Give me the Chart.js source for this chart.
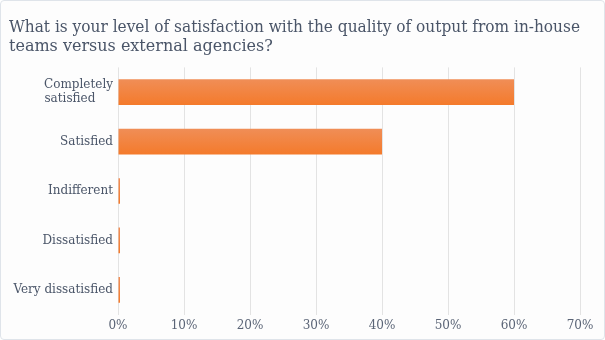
<!DOCTYPE html>
<html>
<head>
<meta charset="utf-8">
<script src="https://cdn.jsdelivr.net/npm/chart.js@4"></script>
<style>
  html, body { margin: 0; padding: 0; background: #ffffff; }
  #wrap {
    width: 605px; height: 340px; box-sizing: border-box;
    border: 1px solid #dfe4ea; border-radius: 4px; background: #fdfdfd;
  }
  canvas { display: block; }
</style>
</head>
<body>
<div id="wrap"><canvas id="chart" width="603" height="338"></canvas></div>
<script>
// chart data
const titleLines = ['What is your level of satisfaction with the quality of output from in-house', 'teams versus external agencies?'];
const categories = [['Completely', 'satisfied    \u2009'], 'Satisfied', 'Indifferent', 'Dissatisfied', 'Very dissatisfied'];
const percents = [60, 40, 0, 0, 0];
const xTicksMax = 70;

// lighter at top of each bar, darker orange at the bottom
function barGradient(context) {
  const chart = context.chart;
  const yScale = chart.scales.y;
  if (!yScale || !chart.chartArea) return '#f47b2e';
  const center = yScale.getPixelForValue(context.dataIndex);
  const half = 13;
  const g = chart.ctx.createLinearGradient(0, center - half, 0, center + half);
  g.addColorStop(0, '#f08e57');
  g.addColorStop(1, '#f47a2b');
  return g;
}

new Chart(document.getElementById('chart'), {
  type: 'bar',
  data: {
    labels: categories,
    datasets: [{
      data: percents,
      backgroundColor: barGradient,
      borderWidth: 0,
      minBarLength: 2,
      barPercentage: 0.65,
      categoryPercentage: 0.8
    }]
  },
  options: {
    indexAxis: 'y',
    responsive: false,
    animation: false,
    layout: { padding: { left: 8, right: 24, top: 4, bottom: 2 } },
    plugins: {
      legend: { display: false },
      tooltip: { enabled: false },
      title: {
        display: true,
        text: titleLines,
        align: 'start',
        color: '#4a5568',
        font: { family: 'DejaVu Serif', size: 16, weight: 'normal', lineHeight: 1.2 },
        padding: { top: 13, bottom: 11 }
      }
    },
    scales: {
      x: {
        min: 0,
        max: xTicksMax,
        ticks: {
          stepSize: 10,
          color: '#5a6476',
          font: { family: 'DejaVu Serif', size: 12 },
          padding: 4,
          callback: v => v + '%'
        },
        grid: { color: '#e3e3e3', drawTicks: false },
        border: { display: false }
      },
      y: {
        afterFit: scale => { scale.width = 109; },
        ticks: {
          color: '#4a5568',
          font: { family: 'DejaVu Serif', size: 12 },
          padding: 5
        },
        grid: { display: false, drawTicks: false },
        border: { display: false }
      }
    }
  }
});
</script>
</body>
</html>
